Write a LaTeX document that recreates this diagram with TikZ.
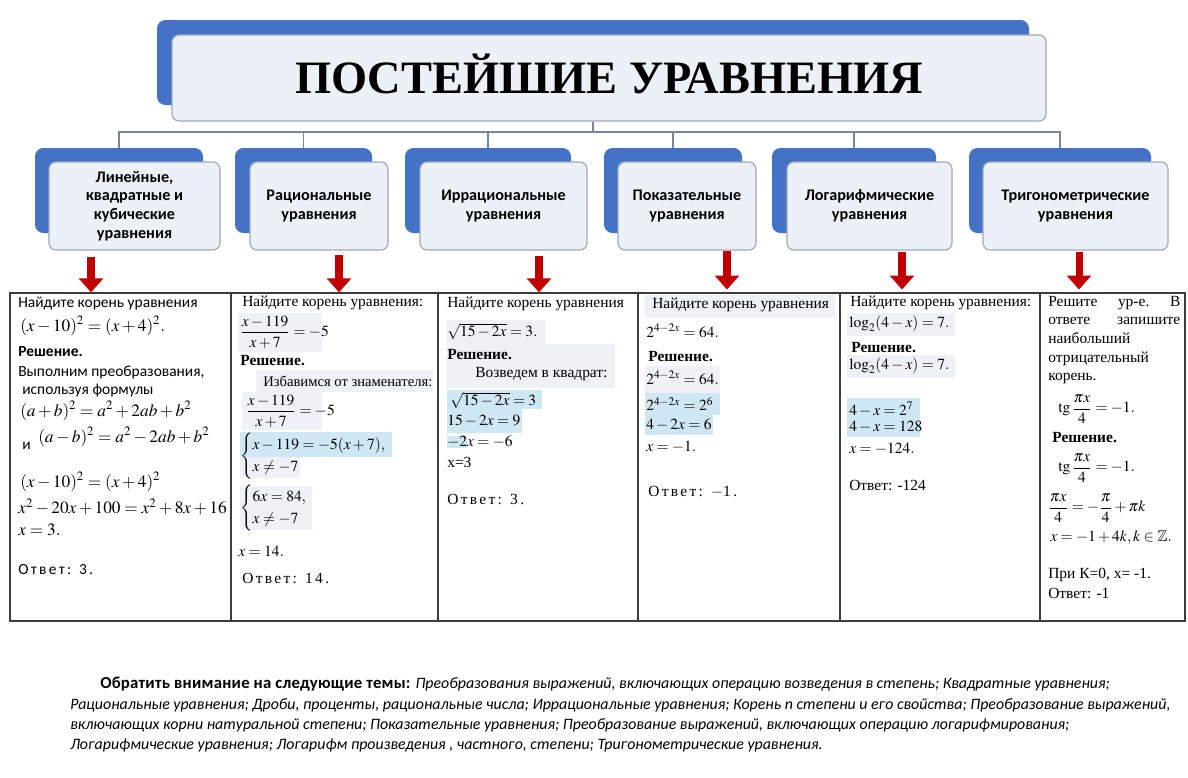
\documentclass[tikz,border=0pt]{standalone}
\usepackage{mathptmx}
\usepackage{amsmath,amssymb}
\usepackage{fontspec}
\setmainfont{Liberation Serif}
\setsansfont{Carlito}
\usetikzlibrary{arrows.meta, positioning, fit}
\definecolor{boxblue}{RGB}{68, 114, 196}
\definecolor{boxfill}{RGB}{236, 241, 248}
\definecolor{boxedge}{RGB}{160, 168, 182}
\definecolor{linkgray}{RGB}{118, 134, 160}
\definecolor{arrowred}{RGB}{192, 0, 0}
\definecolor{hlblue}{RGB}{207, 230, 243}
\definecolor{hlgray}{RGB}{238, 242, 247}
\definecolor{tablegray}{RGB}{60, 60, 60}
\newcommand{\razr}[1]{{\addfontfeature{LetterSpace=15}#1}}

\begin{document}
\begin{tikzpicture}[
    x=0.025cm, y=-0.025cm,
    back/.style={fill=boxblue, rounded corners=6pt, inner sep=0pt},
    front/.style={fill=boxfill, draw=boxedge, line width=0.8pt, rounded corners=5pt, inner sep=0pt},
    label/.style={align=center, inner sep=0pt, font=\sffamily\bfseries\fontsize{11.5}{13.3}\selectfont, text=black},
    link/.style={draw=linkgray, line width=1pt},
    redarrow/.style={draw=arrowred, line width=5pt, -{Triangle[width=17pt,length=10pt]}},
    cell/.style={anchor=west, inner sep=0pt, font=\fontsize{11}{13}\selectfont},
    cellsf/.style={cell, font=\sffamily\fontsize{11}{13}\selectfont},
    mathbig/.style={cell, font=\fontsize{12.3}{14}\selectfont},
    note/.style={anchor=north west, inner sep=0pt, align=left, font=\sffamily\fontsize{11.3}{14.5}\selectfont},
    hl/.style={fill=hlblue},
    hlsoft/.style={fill=hlgray}
]
\useasboundingbox (0,0) rectangle (1188,777);
\fill[white] (0,0) rectangle (1188,777);

% Заголовок
\node[back, fit={(157,20) (1029,105)}] (tback) {};
\node[front, fit={(172,35) (1046,121)}] (tfront) {};
\node[label, font=\bfseries\fontsize{33}{36}\selectfont] (title) at ([yshift=3pt]tfront.center) {ПОСТЕЙШИЕ УРАВНЕНИЯ};

% Виды уравнений
\node[back, fit={(35,148) (203,233)}] (b1back) {};
\node[front, fit={(49,162) (220,250)}] (b1) {};
\node[label] (b1text) at (b1.center) {Линейные,\\квадратные и\\кубические\\уравнения};
\node[back, fit={(235,148) (372,233)}] (b2back) {};
\node[front, fit={(250,162) (388,250)}] (b2) {};
\node[label] (b2text) at (b2.center) {Рациональные\\уравнения};
\node[back, fit={(405,148) (571,233)}] (b3back) {};
\node[front, fit={(420,162) (587,250)}] (b3) {};
\node[label] (b3text) at (b3.center) {Иррациональные\\уравнения};
\node[back, fit={(604,148) (742,233)}] (b4back) {};
\node[front, fit={(618,162) (756,250)}] (b4) {};
\node[label] (b4text) at (b4.center) {Показательные\\уравнения};
\node[back, fit={(772,148) (936,233)}] (b5back) {};
\node[front, fit={(787,162) (952,250)}] (b5) {};
\node[label] (b5text) at (b5.center) {Логарифмические\\уравнения};
\node[back, fit={(969,148) (1151,233)}] (b6back) {};
\node[front, fit={(983,162) (1168,250)}] (b6) {};
\node[label] (b6text) at (b6.center) {Тригонометрические\\уравнения};

% Связи
\coordinate (bus) at (593,132);
\draw[link] (tback.south |- tfront.south) -- (bus);
\draw[link] (bus) -| (b1back.north);
\draw[link] (bus) -| (b2back.north);
\draw[link] (bus) -| (b3back.north);
\draw[link] (bus) -| (b4back.north);
\draw[link] (bus) -| (b5back.north);
\draw[link] (bus) -| (b6back.north);

% Таблица
\node[draw=tablegray, line width=0.9pt, fit={(10,293) (1185,621)}, inner sep=0pt] (tbl) {};
\foreach \cx in {231,438,638,840,1040}
  \draw[tablegray, line width=0.8pt] (\cx,0 |- tbl.north) -- (\cx,0 |- tbl.south);

% Стрелки
\coordinate (ar1) at (91,257);
\coordinate (ar2) at (339,255);
\coordinate (ar3) at (539,256);
\coordinate (ar4) at (727,251);
\coordinate (ar5) at (902,252);
\coordinate (ar6) at (1079,252);
\draw[redarrow] (ar1) -- (ar1 |- tbl.north);
\draw[redarrow] (ar2) -- (ar2 |- tbl.north);
\draw[redarrow] (ar3) -- (ar3 |- tbl.north);
\draw[redarrow] (ar4) -- ([yshift=2pt]ar4 |- tbl.north);
\draw[redarrow] (ar5) -- ([yshift=2pt]ar5 |- tbl.north);
\draw[redarrow] (ar6) -- ([yshift=2pt]ar6 |- tbl.north);

% Подсветка
\fill[hlsoft] (238,313) rectangle (322,352);
\fill[hlsoft] (256,370) rectangle (433,392);
\fill[hlsoft] (242,392) rectangle (322,430);
\fill[hl] (240,432) rectangle (392,457);
\fill[hlsoft] (240,457) rectangle (300,478);
\fill[hlsoft] (240,486) rectangle (312,530);
\fill[hlsoft] (447,320) rectangle (545,344);
\fill[hlsoft] (447,344) rectangle (615,388);
\fill[hl] (447,390) rectangle (542,409);
\fill[hl] (447,409) rectangle (522,433);
\fill[hl] (447,436) rectangle (467,448);
\fill[hlsoft] (645,295) rectangle (835,318);
\fill[hlsoft] (645,366) rectangle (720,393);
\fill[hl] (645,393) rectangle (720,415);
\fill[hl] (645,415) rectangle (713,435);
\fill[hlsoft] (847,313) rectangle (955,336);
\fill[hlsoft] (847,355) rectangle (955,378);
\fill[hl] (847,398) rectangle (920,437);

% Столбец 1
\node[cellsf] (c1a) at (18,304) {Найдите корень уравнения};
\node[mathbig] (c1b) at (20,326) {$(x-10)^2=(x+4)^2.$};
\node[cellsf] (c1c) at (18,352) {\textbf{Решение.}};
\node[cellsf] (c1d) at (18,372) {Выполним преобразования,};
\node[cellsf] (c1e) at (22,391) {используя формулы};
\node[mathbig] (c1f) at (20,411) {$(a+b)^2=a^2+2ab+b^2$};
\node[cellsf] (c1g) at (22,446) {и};
\node[mathbig] (c1h) at (38,437) {$(a-b)^2=a^2-2ab+b^2$};
\node[mathbig] (c1i) at (20,482) {$(x-10)^2=(x+4)^2$};
\node[mathbig] (c1j) at (18,507) {$x^2-20x+100=x^2+8x+16$};
\node[mathbig] (c1k) at (18,530) {$x=3.$};
\node[cellsf] (c1l) at (18,570) {\razr{Ответ: 3.}};

% Столбец 2
\node[cell] (c2a) at (242,303) {Найдите корень уравнения:};
\node[cell] (c2b) at (240,332) {$\dfrac{x-119}{x+7}=-5$};
\node[cell] (c2c) at (240,361) {\textbf{Решение.}};
\node[cell, font=\fontsize{10.4}{12}\selectfont] (c2d) at (263,381) {Избавимся от знаменателя:};
\node[cell] (c2e) at (246,411) {$\dfrac{x-119}{x+7}=-5$};
\node[cell] (c2f) at (240,456) {$\begin{cases} x-119=-5(x+7),\\ x\neq-7\end{cases}$};
\node[cell] (c2g) at (240,508) {$\begin{cases} 6x=84,\\ x\neq-7\end{cases}$};
\node[cell] (c2h) at (238,551) {$x=14.$};
\node[cell] (c2i) at (242,578) {\razr{Ответ: 14.}};

% Столбец 3
\node[cell] (c3a) at (447,304) {Найдите корень уравнения};
\node[cell] (c3b) at (447,331) {$\sqrt{15-2x}=3.$};
\node[cell] (c3c) at (447,355) {\textbf{Решение.}};
\node[cell] (c3d) at (475,374) {Возведем в квадрат:};
\node[cell] (c3e) at (450,400) {$\sqrt{15-2x}=3$};
\node[cell] (c3f) at (447,421) {$15-2x=9$};
\node[cell] (c3g) at (447,442) {$-2x=-6$};
\node[cell] (c3h) at (447,462) {x=3};
\node[cell] (c3i) at (447,499) {\razr{Ответ: 3.}};

% Столбец 4
\node[cell] (c4a) at (652,305) {Найдите корень уравнения};
\node[cell] (c4b) at (646,331) {$2^{4-2x}=64.$};
\node[cell] (c4c) at (648,357) {\textbf{Решение.}};
\node[cell] (c4d) at (646,378) {$2^{4-2x}=64.$};
\node[cell] (c4e) at (646,404) {$2^{4-2x}=2^6$};
\node[cell] (c4f) at (646,425) {$4-2x=6$};
\node[cell] (c4g) at (646,447) {$x=-1.$};
\node[cell] (c4h) at (648,492) {\razr{Ответ: $-$1.}};

% Столбец 5
\node[cell] (c5a) at (850,303) {Найдите корень уравнения:};
\node[cell] (c5b) at (849,324) {$\log_2(4-x)=7.$};
\node[cell] (c5c) at (851,348) {\textbf{Решение.}};
\node[cell] (c5d) at (849,366) {$\log_2(4-x)=7.$};
\node[cell] (c5e) at (849,409) {$4-x=2^7$};
\node[cell] (c5f) at (849,427) {$4-x=128$};
\node[cell] (c5g) at (849,449) {$x=-124.$};
\node[cell] (c5h) at (849,485) {Ответ: -124};

% Столбец 6
\node[cell, anchor=north west, text width=3.3cm, align=left, font=\fontsize{11}{13.2}\selectfont] (c6a) at (1048,296)
  {Решите\hfill ур-е.\hfill В\\ответе\hfill запишите\\наибольший\\отрицательный\\корень.};
\node[cell] (c6b) at (1058,409) {$\mathrm{tg}\,\dfrac{\pi x}{4}=-1.$};
\node[cell] (c6c) at (1052,438) {\textbf{Решение.}};
\node[cell] (c6d) at (1058,468) {$\mathrm{tg}\,\dfrac{\pi x}{4}=-1.$};
\node[cell] (c6e) at (1048,508) {$\dfrac{\pi x}{4}=-\dfrac{\pi}{4}+\pi k$};
\node[cell] (c6f) at (1050,538) {$x=-1+4k, k\in\mathbb{Z}.$};
\node[cell] (c6g) at (1048,575) {При К=0, х= -1.};
\node[cell] (c6h) at (1048,593) {Ответ: -1};

% Темы
\node[note] (themes) at (70,677) {\hspace*{0.75cm}{\fontsize{11.9}{14.5}\selectfont\addfontfeature{LetterSpace=1.5}\textbf{Обратить внимание на следующие темы:}} \textit{Преобразования выражений, включающих операцию возведения в степень; Квадратные уравнения;}\\
\textit{Рациональные уравнения; Дроби, проценты, рациональные числа; Иррациональные уравнения; Корень n степени и его свойства; Преобразование выражений,}\\
\textit{включающих корни натуральной степени; Показательные уравнения; Преобразование выражений, включающих операцию логарифмирования;}\\
\textit{Логарифмические уравнения; Логарифм произведения , частного, степени; Тригонометрические уравнения.}};

\end{tikzpicture}
\end{document}
